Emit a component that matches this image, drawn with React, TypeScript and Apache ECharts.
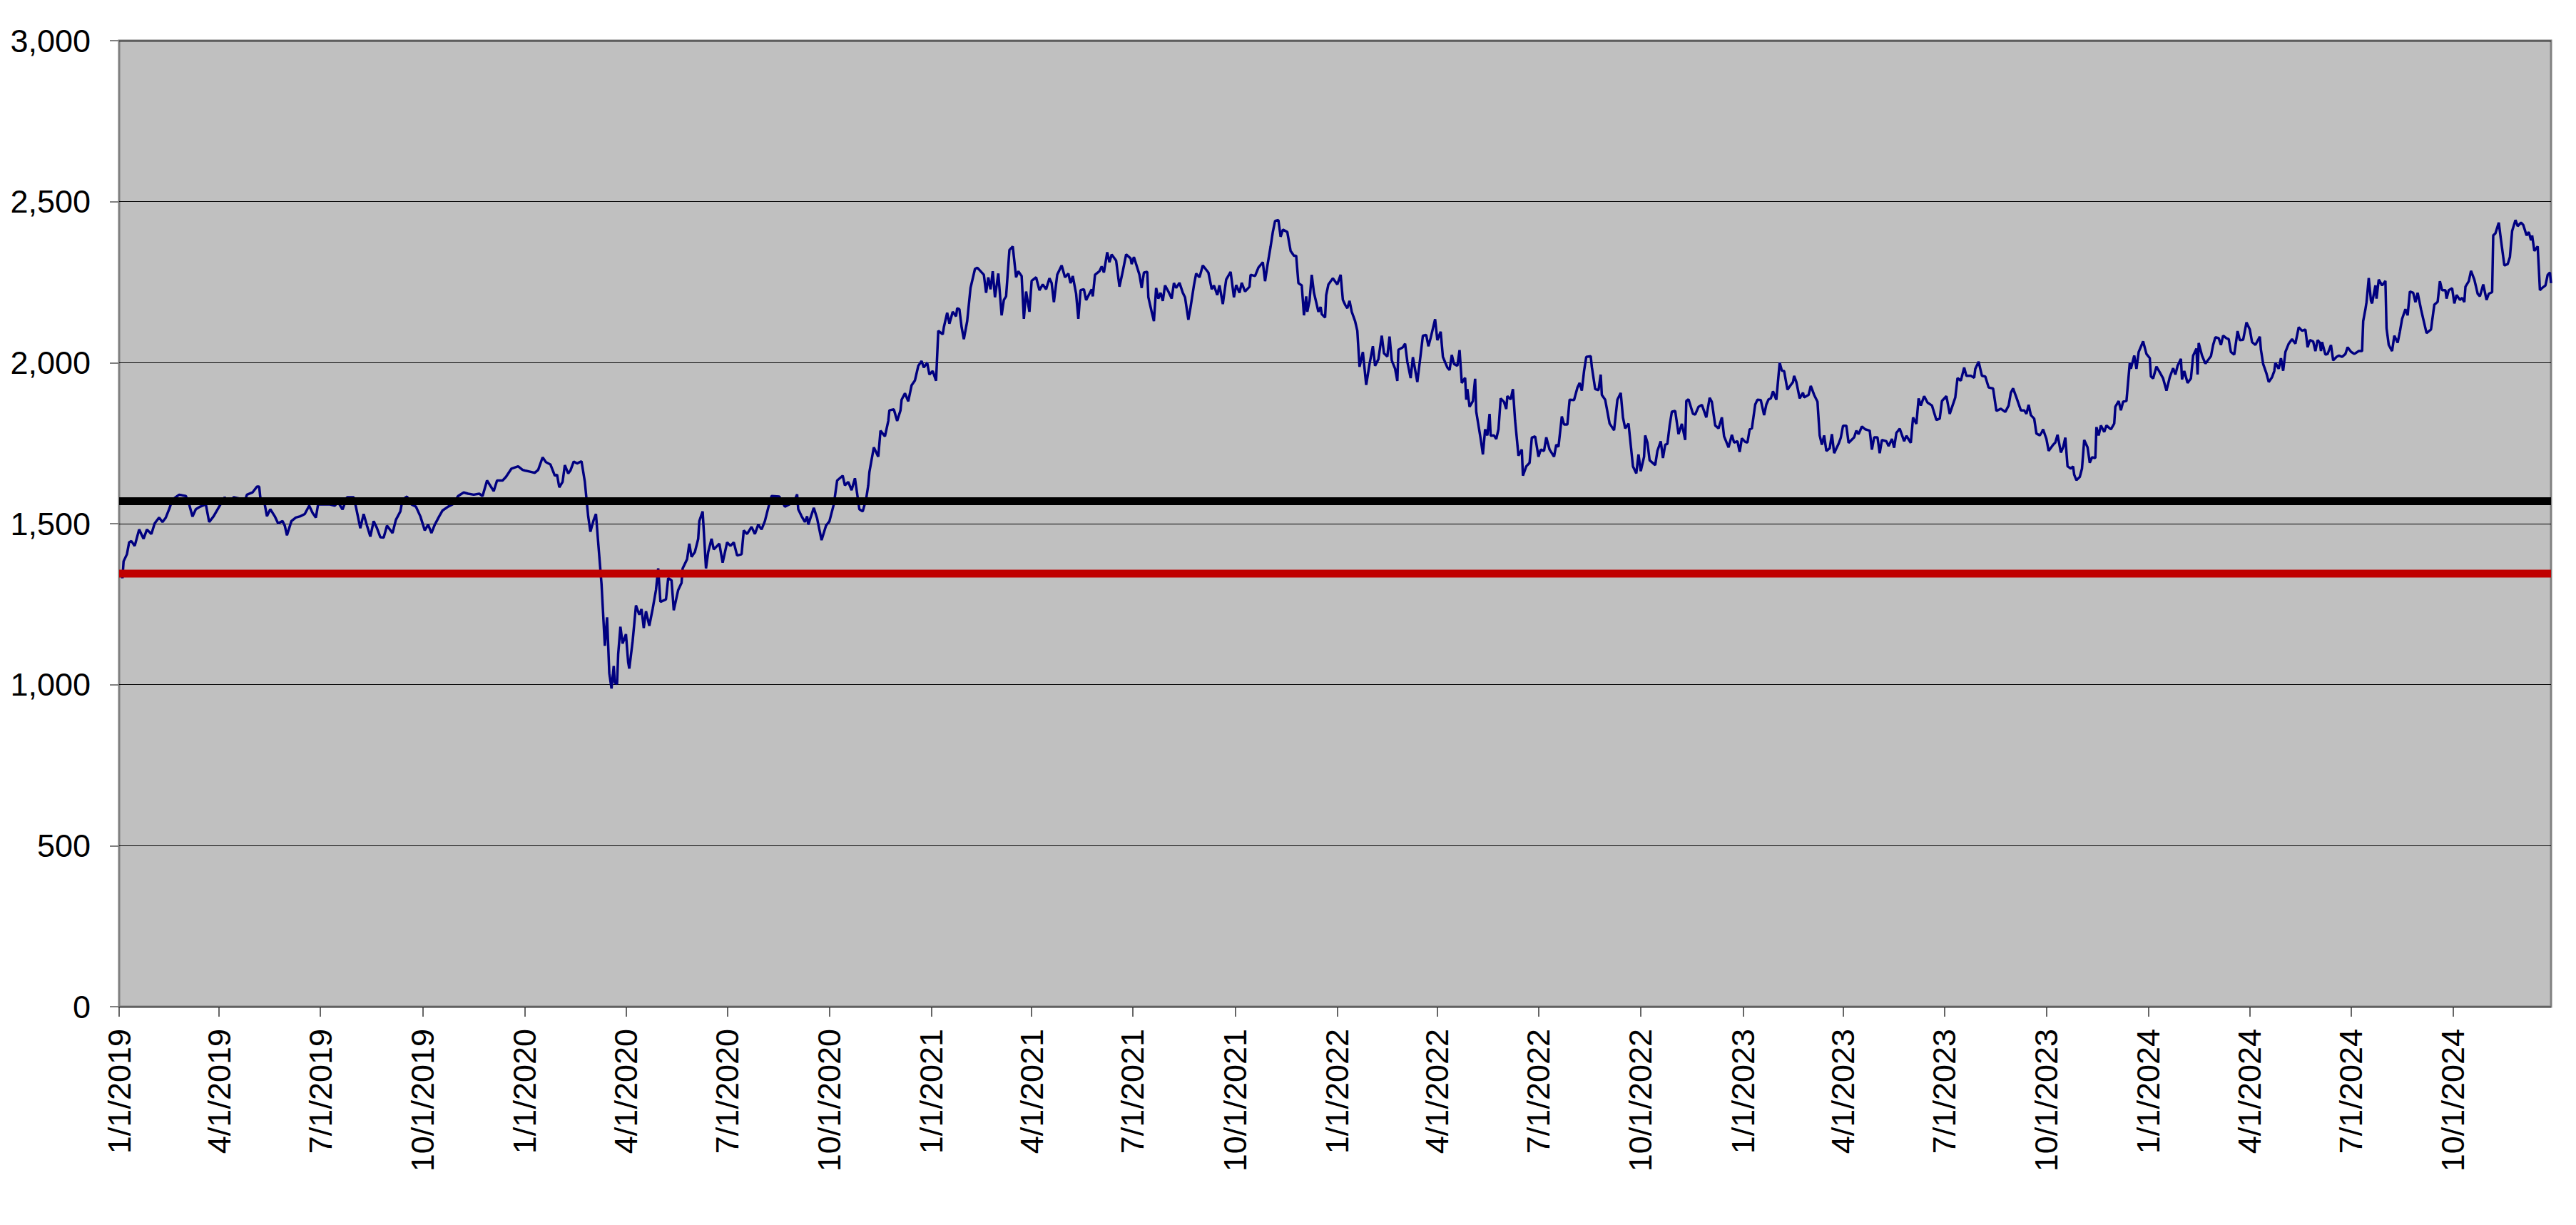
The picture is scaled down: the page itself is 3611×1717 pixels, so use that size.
import { useEffect, useRef } from "react";
import * as echarts from "echarts";

// ---------- data ----------
// Dates are stored as day offsets from START_DATE (2019-01-01); values are the index level.
const START_DATE = "2019-01-01";
const LAST_DAY = 2188; // last trading day shown (late Dec 2024)

const upperLevel = 1570; // black reference line
const lowerLevel = 1345; // red reference line

const tickDates = [
  "2019-01-01", "2019-04-01", "2019-07-01", "2019-10-01",
  "2020-01-01", "2020-04-01", "2020-07-01", "2020-10-01",
  "2021-01-01", "2021-04-01", "2021-07-01", "2021-10-01",
  "2022-01-01", "2022-04-01", "2022-07-01", "2022-10-01",
  "2023-01-01", "2023-04-01", "2023-07-01", "2023-10-01",
  "2024-01-01", "2024-04-01", "2024-07-01", "2024-10-01",
];

const yMin = 0;
const yMax = 3000;
const yStep = 500;

const year2019: [number, number][] = [
  [1,1350],[3,1331],[4,1383],[7,1405],[9,1442],[11,1446],[14,1431],[18,1482],[22,1453],[25,1482],[29,1468],
  [32,1501],[36,1519],[39,1505],[42,1519],[45,1545],[48,1575],[54,1590],[60,1586],[63,1560],[66,1522],
  [69,1545],[73,1553],[78,1560],[81,1505],[85,1523],[90,1553],[95,1582],[99,1560],[103,1582],[108,1578],
  [112,1560],[115,1590],[120,1597],[124,1615],[126,1615],[127,1582],[131,1560],[133,1523],[136,1545],
  [140,1523],[143,1501],[147,1508],[149,1494],[151,1464],[155,1508],[159,1519],[163,1523],[167,1530],
  [171,1556],[174,1534],[177,1519],[179,1560],[184,1560],[189,1560],[194,1556],[197,1567],[201,1544],
  [205,1582],[211,1582],[213,1553],[217,1486],[220,1530],[223,1494],[226,1460],[229,1508],[232,1486],
  [235,1458],[238,1457],[241,1494],[246,1471],[249,1512],[253,1538],[255,1575],[259,1584],[263,1560],
  [267,1553],[271,1523],[275,1479],[278,1497],[281,1471],[284,1497],[288,1523],[291,1541],[296,1553],
  [300,1560],[305,1586],[310,1597],[314,1593],[319,1590],[324,1593],[327,1586],[331,1634],[337,1601],
  [340,1634],[345,1634],[348,1645],[353,1671],[359,1678],[363,1667],
];

const year2020: [number, number][] = [
  [365,1665],[369,1662],[374,1658],[377,1667],[381,1706],[384,1691],[388,1684],[392,1649],[394,1652],
  [396,1613],[399,1630],[401,1682],[404,1656],[406,1665],[409,1693],[412,1687],[416,1694],[419,1630],
  [422,1523],[424,1475],[427,1512],[429,1530],[431,1442],[434,1313],[437,1121],[439,1209],[441,1036],
  [443,988],[445,1058],[446,1006],[448,1002],[449,1095],[451,1180],[453,1128],[456,1157],[458,1069],
  [459,1050],[462,1135],[465,1246],[468,1217],[470,1235],[472,1176],[474,1228],[477,1183],[480,1235],
  [483,1294],[485,1361],[487,1257],[492,1265],[494,1331],[497,1324],[499,1231],[503,1294],[506,1316],
  [507,1361],[511,1390],[513,1438],[515,1397],[518,1412],[521,1453],[522,1508],[525,1538],[528,1361],
  [530,1412],[533,1453],[535,1420],[540,1438],[543,1379],[547,1442],[550,1431],[553,1442],[556,1401],
  [560,1405],[562,1479],[565,1468],[569,1490],[572,1468],[575,1497],[578,1482],[581,1508],[584,1549],
  [587,1586],[594,1584],[599,1553],[603,1560],[607,1567],[610,1591],[611,1545],[614,1523],[617,1505],
  [619,1523],[620,1497],[625,1549],[628,1516],[630,1482],[632,1449],[636,1494],[639,1507],[643,1560],
  [646,1634],[651,1649],[653,1619],[656,1630],[659,1604],[662,1641],[666,1545],[669,1538],[672,1575],
  [674,1619],[675,1660],[679,1737],[683,1708],[685,1789],[689,1771],[692,1819],[693,1852],[697,1855],
  [700,1819],[703,1852],[704,1885],[707,1905],[710,1880],[713,1930],[716,1945],[719,1990],[722,2005],
  [724,1985],[727,2000],[729,1963],
];

const year2021: [number, number][] = [
  [732,1974],[735,1944],[737,2099],[741,2088],[742,2110],[745,2155],[747,2121],[750,2158],[753,2144],
  [754,2169],[756,2166],[758,2110],[760,2073],[763,2129],[766,2232],[770,2291],[772,2295],[774,2288],
  [778,2273],[780,2217],[782,2265],[784,2228],[786,2284],[788,2203],[791,2277],[794,2147],[796,2195],
  [798,2206],[801,2350],[804,2361],[807,2265],[809,2284],[812,2269],[814,2136],[816,2221],[819,2158],
  [821,2254],[825,2265],[828,2225],[831,2243],[834,2228],[837,2262],[839,2247],[841,2188],[844,2273],
  [848,2302],[851,2265],[854,2277],[856,2247],[858,2269],[861,2214],[863,2136],[865,2225],[868,2228],
  [870,2194],[875,2228],[876,2206],[878,2273],[882,2284],[884,2299],[886,2280],[889,2343],[891,2312],
  [893,2336],[897,2317],[900,2236],[903,2284],[906,2336],[910,2324],[911,2306],[913,2328],[918,2273],
  [920,2232],[922,2280],[925,2282],[926,2203],[929,2158],[931,2129],[933,2232],[935,2199],[937,2217],
  [939,2192],[941,2240],[944,2221],[947,2199],[949,2247],[951,2232],[954,2248],[957,2217],[959,2203],
  [962,2133],[964,2173],[967,2240],[969,2277],[972,2265],[975,2302],[980,2280],[983,2228],[985,2240],
  [988,2210],[990,2240],[993,2182],[996,2258],[1000,2282],[1003,2203],[1005,2241],[1008,2217],[1010,2248],
  [1013,2221],[1017,2236],[1018,2273],[1022,2269],[1025,2295],[1029,2312],[1031,2253],[1033,2299],
  [1036,2361],[1038,2406],[1040,2440],[1043,2443],[1045,2391],[1047,2413],[1051,2406],[1054,2347],
  [1057,2332],[1059,2332],[1061,2247],[1064,2240],[1066,2147],[1068,2206],[1069,2158],[1071,2192],
  [1073,2273],[1075,2217],[1077,2188],[1079,2158],[1081,2173],[1082,2151],[1085,2140],[1086,2210],
  [1088,2243],[1092,2262],
];

const year2022: [number, number][] = [
  [1096,2243],[1099,2273],[1101,2195],[1103,2180],[1105,2169],[1107,2192],[1109,2158],[1112,2129],
  [1114,2099],[1116,1987],[1119,2033],[1122,1931],[1125,1996],[1128,2051],[1130,1990],[1133,2011],
  [1136,2084],[1138,2029],[1141,2019],[1143,2081],[1145,2007],[1148,1981],[1150,1943],[1151,2040],
  [1155,2048],[1157,2059],[1159,2003],[1162,1952],[1164,2017],[1168,1940],[1171,2025],[1173,2084],
  [1176,2086],[1178,2051],[1180,2077],[1184,2135],[1186,2070],[1189,2096],[1191,2018],[1195,1985],
  [1197,1977],[1199,2024],[1201,1996],[1204,1990],[1206,2039],[1208,1937],[1211,1953],[1212,1885],
  [1213,1918],[1215,1863],[1218,1881],[1220,1950],[1221,1848],[1225,1763],[1227,1715],[1229,1793],
  [1231,1774],[1233,1841],[1234,1773],[1237,1774],[1239,1763],[1241,1793],[1243,1889],[1246,1878],
  [1248,1856],[1249,1896],[1252,1886],[1254,1918],[1256,1819],[1259,1711],[1262,1730],[1263,1649],
  [1266,1678],[1269,1689],[1271,1767],[1274,1771],[1277,1708],[1279,1730],[1282,1726],[1284,1768],
  [1287,1730],[1291,1708],[1293,1745],[1295,1739],[1298,1833],[1300,1808],[1303,1808],[1305,1885],
  [1309,1884],[1312,1922],[1314,1937],[1316,1913],[1318,1974],[1320,2018],[1324,2020],[1325,1987],
  [1328,1918],[1331,1915],[1333,1963],[1334,1900],[1337,1885],[1341,1811],[1345,1790],[1348,1885],
  [1351,1906],[1353,1830],[1355,1796],[1358,1811],[1362,1678],[1365,1656],[1367,1715],[1369,1663],
  [1372,1708],[1373,1774],[1375,1752],[1377,1697],[1382,1682],[1384,1726],[1387,1756],[1389,1704],
  [1391,1745],[1393,1748],[1395,1805],[1397,1848],[1400,1850],[1403,1778],[1406,1810],[1409,1760],
  [1410,1881],[1412,1886],[1416,1841],[1418,1839],[1421,1863],[1424,1869],[1428,1830],[1431,1891],
  [1433,1878],[1436,1805],[1439,1796],[1442,1830],[1444,1771],[1448,1737],[1451,1776],[1453,1752],
  [1456,1756],[1458,1723],
];

const year2023: [number, number][] = [
  [1460,1765],[1463,1754],[1465,1752],[1467,1793],[1469,1796],[1472,1870],[1474,1885],[1477,1884],
  [1480,1837],[1482,1870],[1484,1886],[1486,1889],[1488,1911],[1491,1885],[1494,2000],[1496,1975],
  [1498,1974],[1501,1916],[1503,1926],[1506,1940],[1507,1959],[1509,1940],[1512,1889],[1515,1907],
  [1516,1892],[1520,1900],[1522,1928],[1525,1900],[1528,1879],[1530,1774],[1532,1745],[1534,1774],
  [1536,1726],[1539,1734],[1541,1778],[1543,1719],[1547,1748],[1549,1767],[1551,1804],[1554,1804],
  [1556,1751],[1561,1768],[1563,1789],[1565,1778],[1568,1802],[1571,1793],[1575,1789],[1577,1730],
  [1579,1768],[1582,1768],[1584,1719],[1586,1760],[1590,1756],[1592,1741],[1595,1763],[1597,1736],
  [1599,1782],[1602,1795],[1606,1756],[1608,1773],[1612,1751],[1614,1830],[1617,1810],[1619,1889],
  [1621,1867],[1624,1896],[1627,1876],[1631,1867],[1635,1822],[1638,1826],[1640,1881],[1644,1896],
  [1647,1841],[1652,1892],[1654,1952],[1657,1944],[1660,1985],[1662,1959],[1666,1959],[1669,1953],
  [1670,1981],[1673,2003],[1676,1959],[1679,1957],[1682,1923],[1686,1920],[1689,1850],[1693,1857],
  [1697,1847],[1700,1867],[1702,1907],[1704,1920],[1707,1892],[1711,1852],[1714,1852],[1716,1841],
  [1718,1869],[1720,1837],[1723,1826],[1725,1780],[1728,1774],[1730,1785],[1731,1793],[1734,1763],
  [1736,1726],[1740,1745],[1742,1752],[1744,1776],[1747,1721],[1749,1737],[1751,1767],[1753,1678],
  [1756,1671],[1758,1678],[1759,1652],[1761,1635],[1764,1645],[1766,1671],[1768,1760],[1771,1737],
  [1773,1689],[1775,1706],[1778,1704],[1779,1800],[1781,1774],[1783,1805],[1786,1785],[1788,1805],
  [1792,1793],[1795,1811],[1796,1863],[1799,1881],[1801,1852],[1803,1879],[1806,1881],[1809,2000],
  [1810,1981],[1813,2022],[1815,1981],[1817,2033],[1821,2066],[1824,2027],
];

const year2024: [number, number][] = [
  [1827,2014],[1828,1957],[1830,1951],[1833,1988],[1836,1970],[1839,1951],[1842,1913],[1845,1955],
  [1848,1983],[1850,1963],[1852,1990],[1855,2012],[1856,1948],[1858,1974],[1861,1937],[1864,1951],
  [1866,2022],[1869,2044],[1870,1963],[1871,2061],[1874,2022],[1877,1997],[1882,2020],[1884,2055],
  [1886,2079],[1889,2076],[1891,2055],[1893,2084],[1896,2076],[1898,2073],[1900,2033],[1903,2025],
  [1906,2098],[1908,2070],[1911,2071],[1914,2125],[1917,2103],[1919,2064],[1922,2055],[1926,2081],
  [1927,2040],[1929,1996],[1932,1966],[1934,1940],[1937,1955],[1939,1974],[1940,2000],[1943,1981],
  [1945,2014],[1947,1975],[1949,2033],[1952,2059],[1955,2073],[1958,2059],[1961,2110],[1964,2099],
  [1967,2103],[1969,2048],[1971,2070],[1974,2066],[1976,2036],[1978,2070],[1980,2062],[1981,2036],
  [1982,2064],[1985,2025],[1987,2027],[1990,2055],[1992,2007],[1995,2018],[1997,2022],[2000,2018],
  [2003,2027],[2005,2048],[2008,2034],[2011,2027],[2015,2036],[2018,2036],[2019,2129],[2021,2166],
  [2022,2188],[2024,2263],[2026,2192],[2027,2184],[2030,2240],[2031,2199],[2033,2258],[2036,2240],
  [2039,2254],[2040,2107],[2042,2055],[2045,2036],[2047,2084],[2050,2062],[2052,2096],[2054,2136],
  [2057,2166],[2059,2147],[2061,2221],[2064,2217],[2066,2188],[2068,2217],[2071,2166],[2073,2136],
  [2076,2092],[2080,2103],[2083,2180],[2086,2189],[2088,2253],[2090,2225],[2093,2225],[2094,2199],
  [2096,2225],[2099,2231],[2101,2184],[2103,2210],[2106,2195],[2108,2201],[2110,2188],[2111,2236],
  [2114,2253],[2116,2285],[2119,2258],[2122,2214],[2124,2206],[2127,2243],[2130,2195],[2132,2214],
  [2135,2219],[2136,2395],[2138,2402],[2141,2435],[2143,2380],[2146,2302],[2149,2306],[2151,2328],
  [2153,2409],[2156,2443],[2158,2424],[2161,2435],[2163,2428],[2166,2395],[2168,2406],[2170,2380],
  [2171,2395],[2173,2347],[2176,2361],[2178,2225],[2180,2232],[2183,2240],[2185,2273],[2187,2280],
  [2188,2247],
];

// ---------- helpers ----------
const DAY_MS = 86400000;
const startMs = Date.parse(START_DATE + "T00:00:00Z");
const toTime = (day: number) => startMs + day * DAY_MS;
const tickTimes = tickDates.map((d) => Date.parse(d + "T00:00:00Z"));
const fmtDate = (v: number) => {
  const d = new Date(v);
  return `${d.getUTCMonth() + 1}/${d.getUTCDate()}/${d.getUTCFullYear()}`;
};

const FONT = "'Liberation Sans', Arial, Helvetica, sans-serif";

export default function App() {
  const ref = useRef<HTMLDivElement>(null);

  useEffect(() => {
    if (!ref.current) return;
    const chart = echarts.init(ref.current, null, { renderer: "svg" });
    const allPoints = [...year2019, ...year2020, ...year2021, ...year2022, ...year2023, ...year2024];
    const seriesData = allPoints.map(([d, v]) => [toTime(d), v]);
    const xMin = startMs;
    const xMax = toTime(LAST_DAY);

    chart.setOption({
      animation: false,
      backgroundColor: "#ffffff",
      textStyle: { fontFamily: FONT },
      grid: {
        left: 167,
        top: 57,
        width: 3409,
        height: 1354,
        show: true,
        backgroundColor: "#C0C0C0",
        borderColor: "#808080",
        borderWidth: 3,
        containLabel: false,
      },
      xAxis: {
        type: "value",
        min: xMin,
        max: xMax,
        scale: true,
        axisLine: { show: false },
        axisTick: {
          show: true,
          customValues: tickTimes,
          length: 14,
          lineStyle: { color: "#333333", width: 1.5 },
        },
        axisLabel: {
          show: true,
          customValues: tickTimes,
          formatter: (v: number) => fmtDate(v),
          rotate: 90,
          margin: 31,
          fontSize: 45,
          fontFamily: FONT,
          color: "#000000",
          hideOverlap: false,
          showMinLabel: true,
          showMaxLabel: true,
        },
        splitLine: { show: false },
      },
      yAxis: {
        type: "value",
        min: yMin,
        max: yMax,
        interval: yStep,
        axisLine: { show: false },
        axisTick: { show: true, length: 13, lineStyle: { color: "#808080", width: 2 } },
        axisLabel: {
          fontSize: 45,
          fontFamily: FONT,
          color: "#000000",
          margin: 40,
          formatter: (v: number) => v.toLocaleString("en-US"),
        },
        splitLine: { show: true, lineStyle: { color: "#000000", width: 1 } },
      },
      series: [
        {
          name: "Index",
          type: "line",
          data: seriesData,
          symbol: "none",
          showSymbol: false,
          lineStyle: { color: "#000080", width: 3.5 },
          itemStyle: { color: "#000080" },
          z: 2,
        },
        {
          name: "Upper",
          type: "line",
          data: [[xMin, upperLevel], [xMax, upperLevel]],
          symbol: "none",
          showSymbol: false,
          lineStyle: { color: "#000000", width: 11 },
          z: 3,
        },
        {
          name: "Lower",
          type: "line",
          data: [[xMin, lowerLevel], [xMax, lowerLevel]],
          symbol: "none",
          showSymbol: false,
          lineStyle: { color: "#C00000", width: 11 },
          z: 3,
        },
      ],
    });

    return () => chart.dispose();
  }, []);

  return (
    <div
      ref={ref}
      style={{ position: "absolute", left: 0, top: 0, width: 3611, height: 1717, background: "#ffffff" }}
    />
  );
}
